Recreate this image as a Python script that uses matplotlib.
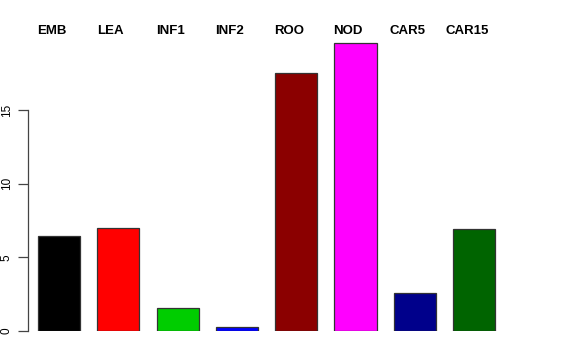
import numpy as np
import matplotlib.pyplot as plt

plt.rcParams['font.family'] = ['Liberation Sans', 'DejaVu Sans']

tissues = ['EMB', 'LEA', 'INF1', 'INF2', 'ROO', 'NOD', 'CAR5', 'CAR15']
values = [6.45, 7.0, 1.56, 0.25, 17.5, 19.55, 2.55, 6.92]
colors = ['#000000', '#FF0000', '#00CD00', '#0000FF', '#8B0000', '#FF00FF', '#00008B', '#006400']
yticks = [0, 5, 10, 15]

W, H = 576, 360
fig = plt.figure(figsize=(W / 100, H / 100), dpi=100)

# axes in pixel terms: spine at x=28, y=0 at pixel 331
left_px, right_px, top_px, bottom_px = 28, 560, 20, 331
ax = fig.add_axes([left_px / W, 1 - bottom_px / H,
                   (right_px - left_px) / W, (bottom_px - top_px) / H])

step_px = 59.3      # distance between bar centres
unit_px = 14.73     # pixels per y unit
x0_px = 59          # first bar centre

ax.set_xlim((left_px - x0_px) / step_px, (right_px - x0_px) / step_px)
ax.set_ylim(0, (bottom_px - top_px) / unit_px)

x = np.arange(len(tissues))
ax.bar(x, values, width=0.71, color=colors, edgecolor='#333333', linewidth=0.9, zorder=2)

# labels across the top, slightly left of each bar
for lx, name in zip(x - 0.125, tissues):
    ax.text(lx, (bottom_px - 31) / unit_px, name, ha='center', va='center',
            fontsize=9.5, fontweight='bold')

for s in ['top', 'right', 'bottom']:
    ax.spines[s].set_visible(False)
ax.spines['left'].set_bounds(0, 15)
ax.spines['left'].set_color('#444444')
ax.spines['left'].set_linewidth(0.9)
ax.set_xticks([])
ax.set_yticks(yticks)
ax.set_yticklabels([str(t) for t in yticks], rotation=90, va='center', fontsize=8.5)
ax.tick_params(axis='y', length=7, width=0.9, color='#444444', pad=4)

fig.savefig('out.png', dpi=100)
